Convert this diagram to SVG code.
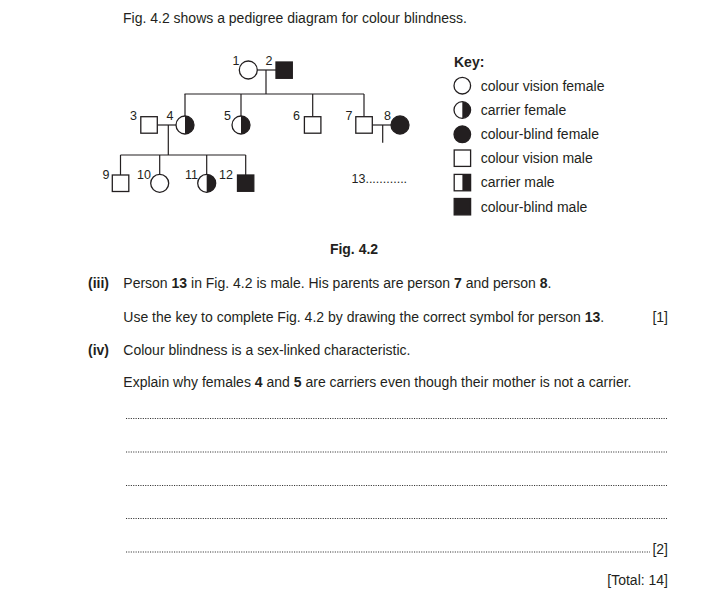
<svg xmlns="http://www.w3.org/2000/svg" width="707" height="608" viewBox="0 0 707 608">
<style>
text{font-family:"Liberation Sans",Arial,sans-serif;fill:#231f20}
.t{font-size:14px}
.b{font-weight:bold}
.lb{font-size:12.5px}
.ln{stroke:#231f20;stroke-width:1.2;fill:none}
.o{fill:#fff;stroke:#231f20;stroke-width:1.3}
.f{fill:#231f20;stroke:#231f20;stroke-width:1.3}
.k{fill:#231f20;stroke:none}
.dot{stroke:#333;stroke-width:1.1;stroke-dasharray:1.1 1.3;fill:none}
</style>
<rect width="707" height="608" fill="#fff"/>
<text class="t" x="123" y="23">Fig. 4.2 shows a pedigree diagram for colour blindness.</text>

<g id="connectors">
<line class="ln" x1="257" y1="70" x2="276" y2="70"/>
<line class="ln" x1="266" y1="70" x2="266" y2="94"/>
<line class="ln" x1="184.5" y1="94" x2="364" y2="94"/>
<line class="ln" x1="185" y1="94" x2="185" y2="116"/>
<line class="ln" x1="241" y1="94" x2="241" y2="116"/>
<line class="ln" x1="312.7" y1="94" x2="312.7" y2="116.7"/>
<line class="ln" x1="364" y1="94" x2="364" y2="116.7"/>
<line class="ln" x1="157.3" y1="125" x2="176" y2="125"/>
<line class="ln" x1="168.3" y1="125" x2="168.3" y2="155"/>
<line class="ln" x1="120.5" y1="155" x2="245.7" y2="155"/>
<line class="ln" x1="120.5" y1="155" x2="120.5" y2="175"/>
<line class="ln" x1="159.7" y1="155" x2="159.7" y2="174.3"/>
<line class="ln" x1="206.7" y1="155" x2="206.7" y2="174.3"/>
<line class="ln" x1="245.7" y1="155" x2="245.7" y2="175"/>
<line class="ln" x1="372.3" y1="125" x2="391" y2="125"/>
<line class="ln" x1="382.7" y1="125" x2="382.7" y2="142.7"/>
</g>

<g id="p1"><circle class="o" cx="248.3" cy="70" r="9"/><text class="lb" x="239.5" y="65" text-anchor="end">1</text></g>
<g id="p2"><rect class="f" x="276" y="62" width="16.3" height="16.3"/><text class="lb" x="265.5" y="65">2</text></g>
<g id="p3"><rect class="o" x="140.8" y="116.7" width="16.5" height="16.5"/><text class="lb" x="130" y="119.5">3</text></g>
<g id="p4"><circle class="o" cx="185" cy="125" r="9"/><path class="k" d="M185,116 A9,9 0 0 1 185,134 Z"/><text class="lb" x="166.5" y="119.5">4</text></g>
<g id="p5"><circle class="o" cx="241" cy="125" r="9"/><path class="k" d="M241,116 A9,9 0 0 1 241,134 Z"/><text class="lb" x="224" y="119.5">5</text></g>
<g id="p6"><rect class="o" x="304.4" y="116.7" width="16.5" height="16.5"/><text class="lb" x="293" y="119.5">6</text></g>
<g id="p7"><rect class="o" x="355.8" y="116.7" width="16.5" height="16.5"/><text class="lb" x="345.5" y="119.5">7</text></g>
<g id="p8"><circle class="f" cx="400" cy="125" r="9"/><text class="lb" x="384" y="119.5">8</text></g>
<g id="p9"><rect class="o" x="112.3" y="175" width="16.5" height="16.5"/><text class="lb" x="102.5" y="178.5">9</text></g>
<g id="p10"><circle class="o" cx="159.7" cy="183.3" r="9"/><text class="lb" x="137" y="178.5">10</text></g>
<g id="p11"><circle class="o" cx="206.7" cy="183.3" r="9"/><path class="k" d="M206.7,174.3 A9,9 0 0 1 206.7,192.3 Z"/><text class="lb" x="185" y="178.5">11</text></g>
<g id="p12"><rect class="f" x="237.5" y="175" width="16.3" height="16.3"/><text class="lb" x="219" y="178.5">12</text></g>
<g id="p13"><text class="lb" x="351.5" y="183">13............</text></g>

<g id="key">
<text class="t b" x="454" y="67">Key:</text>
<circle class="o" cx="462.3" cy="85.7" r="8.3"/>
<text class="t" x="480.7" y="90.5">colour vision female</text>
<circle class="o" cx="462.3" cy="110" r="8.3"/>
<path class="k" d="M462.3,101.7 A8.3,8.3 0 0 1 462.3,118.3 Z"/>
<text class="t" x="480.7" y="114.8">carrier female</text>
<circle class="f" cx="462.3" cy="134.3" r="8.3"/>
<text class="t" x="480.7" y="139">colour-blind female</text>
<rect class="o" x="454.2" y="150" width="16.4" height="16.4"/>
<text class="t" x="480.7" y="163">colour vision male</text>
<rect class="o" x="454.2" y="174.4" width="16.4" height="16.4"/>
<rect class="k" x="462.4" y="174.4" width="8.2" height="16.4"/>
<text class="t" x="480.7" y="187.3">carrier male</text>
<rect class="f" x="454.2" y="198.5" width="16.4" height="16.4"/>
<text class="t" x="480.7" y="211.5">colour-blind male</text>
</g>

<text class="t b" x="354" y="254" text-anchor="middle">Fig. 4.2</text>
<text class="t b" x="88" y="288">(iii)</text>
<text class="t" x="123.3" y="288">Person <tspan class="b">13</tspan> in Fig. 4.2 is male. His parents are person <tspan class="b">7</tspan> and person <tspan class="b">8</tspan>.</text>
<text class="t" x="123.3" y="321.5">Use the key to complete Fig. 4.2 by drawing the correct symbol for person <tspan class="b">13</tspan>.</text>
<text class="t" x="668" y="321.5" text-anchor="end">[1]</text>
<text class="t b" x="88" y="354.5">(iv)</text>
<text class="t" x="123.3" y="354.5">Colour blindness is a sex-linked characteristic.</text>
<text class="t" x="123.3" y="387">Explain why females <tspan class="b">4</tspan> and <tspan class="b">5</tspan> are carriers even though their mother is not a carrier.</text>

<line class="dot" x1="126" y1="418.5" x2="667" y2="418.5"/>
<line class="dot" x1="126" y1="452" x2="667" y2="452"/>
<line class="dot" x1="126" y1="485.5" x2="667" y2="485.5"/>
<line class="dot" x1="126" y1="518.5" x2="667" y2="518.5"/>
<line class="dot" x1="126" y1="552" x2="650" y2="552"/>
<text class="t" x="668" y="553.5" text-anchor="end">[2]</text>
<text class="t" x="668" y="584.5" text-anchor="end">[Total: 14]</text>
</svg>
